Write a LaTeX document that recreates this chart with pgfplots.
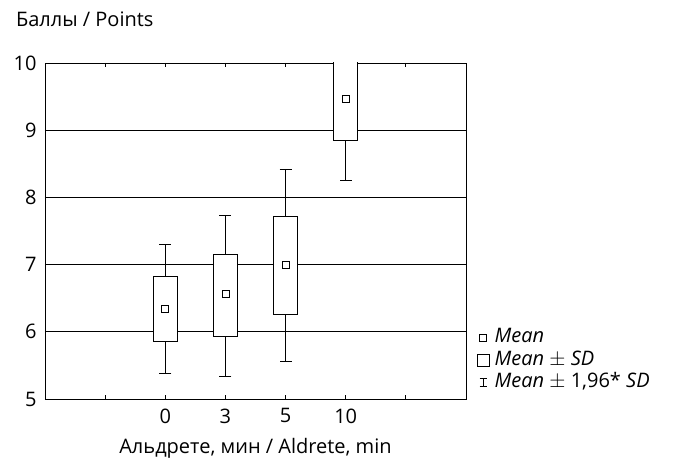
\documentclass[border=0pt]{standalone}
\usepackage{fontspec}
\setmainfont{Open Sans}
\usepackage{pgfplots}
\pgfplotsset{compat=1.18}
\begin{document}
\begin{tikzpicture}
\path[use as bounding box] (-45pt,-63pt) rectangle (628pt,399pt);
\begin{axis}[
  scale only axis,
  width=421pt, height=336pt,
  xmin=0, xmax=7, ymin=5, ymax=10,
  font=\fontsize{20}{24}\selectfont,
  /pgf/number format/assume math mode=true,
  axis line style={line width=0.8pt},
  xtick={1,2,3,4,5,6},
  xticklabels={,0,3,5,10,},
  x tick style={black, line width=0.8pt},
  xtick pos=both, xtick align=inside,
  major tick length=4pt,
  ytick={5,6,7,8,9,10},
  y tick style={draw=none},
  ymajorgrids,
  major grid style={black, line width=0.8pt},
  yticklabel style={xshift=-5pt},
  xticklabel style={yshift=-6pt},
  ylabel={Баллы / Points},
  ylabel style={rotate=-90, at={(axis description cs:-0.077,1.11)}, anchor=base west},
  xlabel={Альдрете, мин / Aldrete, min},
  xlabel style={at={(axis description cs:0.5,-0.1637)}, anchor=base},
  legend style={draw=none, fill=none, at={(axis description cs:1.025,0.21)}, anchor=north west,
    inner sep=0pt, row sep=4.5pt, column sep=0pt,
    nodes={inner sep=0pt, text height=14pt, text depth=4pt},
    font=\fontsize{20}{24}\selectfont},
  legend cell align=left,
]
\addlegendimage{legend image code/.code={\draw[black, line width=0.8pt] (2.5pt,-3.5pt) rectangle (9.5pt,3.5pt);}}
\addlegendentry{\ \textit{Mean}}
\addlegendimage{legend image code/.code={\draw[black, line width=0.8pt] (0pt,-6pt) rectangle (12pt,6pt);}}
\addlegendentry{\ \textit{Mean} $\pm$ \textit{SD}}
\addlegendimage{legend image code/.code={\draw[black, line width=0.8pt] (2.5pt,-4pt)--(9.5pt,-4pt) (6pt,-4pt)--(6pt,4pt) (2.5pt,4pt)--(9.5pt,4pt);}}
\addlegendentry{\ \textit{Mean} $\pm$ 1,96* \textit{SD}}

% whiskers: mean with asymmetric extents (mean +/- 1.96 SD)
\addplot[draw=none, mark=none, forget plot,
  error bars/.cd, y dir=both, y explicit,
  error mark=-, error mark options={black, rotate=90, mark size=6pt, line width=0.8pt},
  error bar style={black, line width=0.8pt}]
  coordinates {
    (2,6.34) += (0,0.96) -= (0,0.96)
    (3,6.56) += (0,1.17) -= (0,1.22)
    (4,7.00) += (0,1.42) -= (0,1.44)
    (5,9.46) += (0,1.20) -= (0,1.20)
  };
% boxes: mean +/- SD
\addplot[black, fill=white, line width=0.8pt, forget plot] coordinates {(1.8,5.86) (2.2,5.86) (2.2,6.82) (1.8,6.82)} -- cycle;
\addplot[black, fill=white, line width=0.8pt, forget plot] coordinates {(2.8,5.93) (3.2,5.93) (3.2,7.15) (2.8,7.15)} -- cycle;
\addplot[black, fill=white, line width=0.8pt, forget plot] coordinates {(3.8,6.26) (4.2,6.26) (4.2,7.71) (3.8,7.71)} -- cycle;
\addplot[black, fill=white, line width=0.8pt, forget plot] coordinates {(4.8,8.85) (5.2,8.85) (5.2,10.07) (4.8,10.07)} -- cycle;
% means
\addplot[only marks, mark=square, mark size=3.5pt, black, forget plot, mark options={fill=white, line width=0.8pt}]
  coordinates {(2,6.34) (3,6.56) (4,7.00) (5,9.46)};
\end{axis}
\end{tikzpicture}
\end{document}
